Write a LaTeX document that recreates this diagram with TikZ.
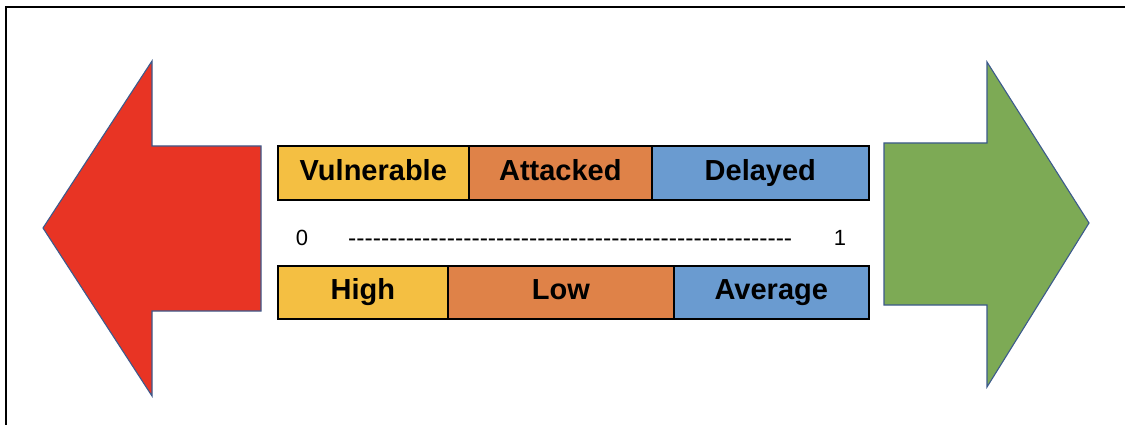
\documentclass[tikz,border=0pt]{standalone}
\usepackage{fontspec}
\newfontfamily\arialb{Liberation Sans}
\newfontfamily\arialr{Liberation Sans}
\definecolor{cyel}{HTML}{F4BF42}
\definecolor{corg}{HTML}{DF8248}
\definecolor{cblu}{HTML}{6A9BD0}
\definecolor{cred}{HTML}{E83424}
\definecolor{cgrn}{HTML}{7DAA55}
\definecolor{cedge}{HTML}{3C5A8C}
\tikzset{
  cell/.style={draw=black, line width=1.6pt, inner sep=0pt, text height=17pt, text depth=2pt, font=\arialb\bfseries\fontsize{29}{32}\selectfont},
  bigarrow/.style={draw=cedge, line width=1.1pt, line join=miter},
  scalelbl/.style={inner sep=0pt, font=\arialr\fontsize{22}{26}\selectfont}
}
\begin{document}
\begin{tikzpicture}[x=1pt,y=-1pt]
\useasboundingbox (0,0) rectangle (1125,425);
\fill[white] (0,0) rectangle (1125,425);
% frame (top and left visible)
\draw[line width=2.2pt] (1125,7) -- (6,7) -- (6,425);
% red arrow
\filldraw[bigarrow, fill=cred] (43,228) -- (152,61) -- (152,146) -- (261,146) -- (261,311) -- (152,311) -- (152,396) -- cycle;
% green arrow
\filldraw[bigarrow, fill=cgrn] (1089,223) -- (987,62) -- (987,143) -- (884,143) -- (884,305) -- (987,305) -- (987,387) -- cycle;
% top row
\node[cell, fill=cyel, minimum width=191pt, minimum height=54pt, anchor=north west] (vul) at (277,145) {Vulnerable};
\node[cell, fill=corg, minimum width=183pt, minimum height=54pt, anchor=north west] (att) at (468,145) {Attacked};
\node[cell, fill=cblu, minimum width=217pt, minimum height=54pt, anchor=north west] (del) at (651,145) {Delayed};
% bottom row
\node[cell, fill=cyel, minimum width=170pt, minimum height=53pt, anchor=north west] (hig) at (277,265) {High};
\node[cell, fill=corg, minimum width=226pt, minimum height=53pt, anchor=north west] (low) at (447,265) {Low};
\node[cell, fill=cblu, minimum width=195pt, minimum height=53pt, anchor=north west] (avg) at (673,265) {Average};
% scale
\node[scalelbl] (zero) at (302,238) {0};
\node[scalelbl] (one) at (840,238) {1};
\node[scalelbl, anchor=west, font=\arialr\fontsize{24}{26}\selectfont] (dash) at (348,238) {\resizebox{444pt}{!}{\vphantom{0}------------------------------------------------------}};
\end{tikzpicture}
\end{document}
